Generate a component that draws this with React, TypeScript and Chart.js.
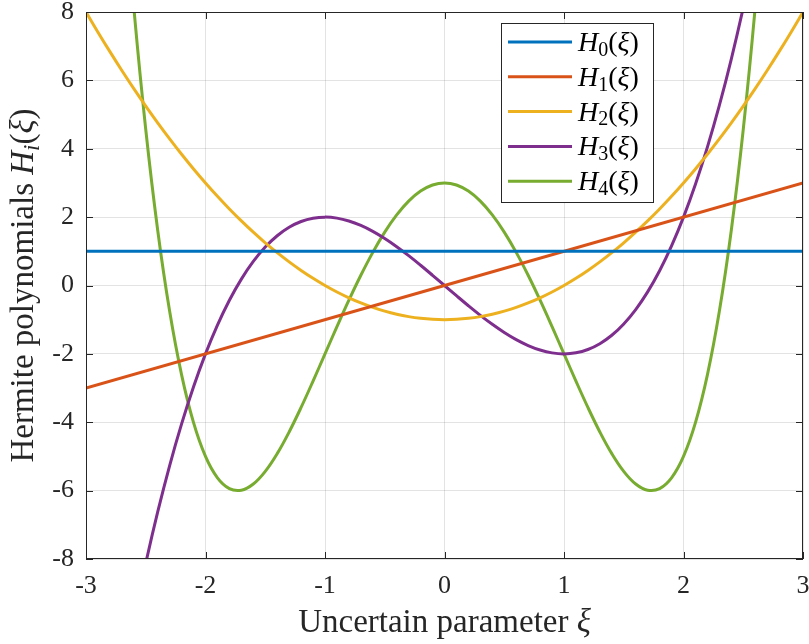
import { useEffect, useRef } from "react";
import { Chart, registerables } from "chart.js";

Chart.register(...registerables);

// Sample grid for the curved polynomials
const xi = [
  -3.0, -2.9, -2.8, -2.7, -2.6, -2.5, -2.4, -2.3, -2.2, -2.1,
  -2.0, -1.9, -1.8, -1.7, -1.6, -1.5, -1.4, -1.3, -1.2, -1.1,
  -1.0, -0.9, -0.8, -0.7, -0.6, -0.5, -0.4, -0.3, -0.2, -0.1,
  0.0, 0.1, 0.2, 0.3, 0.4, 0.5, 0.6, 0.7, 0.8, 0.9,
  1.0, 1.1, 1.2, 1.3, 1.4, 1.5, 1.6, 1.7, 1.8, 1.9,
  2.0, 2.1, 2.2, 2.3, 2.4, 2.5, 2.6, 2.7, 2.8, 2.9, 3.0,
];

// Straight lines only need their end points
const lineXi = [-3, 3];
const h0Values = [1, 1];
const h1Values = [-3, 3];

const h2Values = [
  8, 7.41, 6.84, 6.29, 5.76, 5.25, 4.76, 4.29, 3.84, 3.41,
  3, 2.61, 2.24, 1.89, 1.56, 1.25, 0.96, 0.69, 0.44, 0.21,
  0, -0.19, -0.36, -0.51, -0.64, -0.75, -0.84, -0.91, -0.96, -0.99,
  -1, -0.99, -0.96, -0.91, -0.84, -0.75, -0.64, -0.51, -0.36, -0.19,
  0, 0.21, 0.44, 0.69, 0.96, 1.25, 1.56, 1.89, 2.24, 2.61,
  3, 3.41, 3.84, 4.29, 4.76, 5.25, 5.76, 6.29, 6.84, 7.41, 8,
];

const h3Values = [
  -18, -15.689, -13.552, -11.583, -9.776, -8.125, -6.624, -5.267, -4.048, -2.961,
  -2, -1.159, -0.432, 0.187, 0.704, 1.125, 1.456, 1.703, 1.872, 1.969,
  2, 1.971, 1.888, 1.757, 1.584, 1.375, 1.136, 0.873, 0.592, 0.299,
  0, -0.299, -0.592, -0.873, -1.136, -1.375, -1.584, -1.757, -1.888, -1.971,
  -2, -1.969, -1.872, -1.703, -1.456, -1.125, -0.704, -0.187, 0.432, 1.159,
  2, 2.961, 4.048, 5.267, 6.624, 8.125, 9.776, 11.583, 13.552, 15.689, 18,
];

const h4Values = [
  30, 23.2681, 17.4256, 12.4041, 8.1376, 4.5625, 1.6176, -0.7559, -2.6144, -4.0119,
  -5, -5.6279, -5.9424, -5.9879, -5.8064, -5.4375, -4.9184, -4.2839, -3.5664, -2.7959,
  -2, -1.2039, -0.4304, 0.3001, 0.9696, 1.5625, 2.0656, 2.4681, 2.7616, 2.9401,
  3, 2.9401, 2.7616, 2.4681, 2.0656, 1.5625, 0.9696, 0.3001, -0.4304, -1.2039,
  -2, -2.7959, -3.5664, -4.2839, -4.9184, -5.4375, -5.8064, -5.9879, -5.9424, -5.6279,
  -5, -4.0119, -2.6144, -0.7559, 1.6176, 4.5625, 8.1376, 12.4041, 17.4256, 23.2681, 30,
];

const seriesIndex = ["0", "1", "2", "3", "4"];
const seriesColors = ["#0072BD", "#D95319", "#EDB120", "#7E2F8E", "#77AC30"];

const xTicks = [-3, -2, -1, 0, 1, 2, 3];
const yTicks = [-8, -6, -4, -2, 0, 2, 4, 6, 8];

const SERIF = "'Liberation Serif', 'Times New Roman', serif";
const INK = "#262626";

type Run = { text: string; italic?: boolean; size: number; dy?: number };

function runWidth(ctx: CanvasRenderingContext2D, runs: Run[]) {
  let w = 0;
  for (const r of runs) {
    ctx.font = `${r.italic ? "italic " : ""}${r.size}px ${SERIF}`;
    w += ctx.measureText(r.text).width;
  }
  return w;
}

function drawRuns(ctx: CanvasRenderingContext2D, runs: Run[], x: number, y: number) {
  ctx.textBaseline = "alphabetic";
  ctx.textAlign = "left";
  let cx = x;
  for (const r of runs) {
    ctx.font = `${r.italic ? "italic " : ""}${r.size}px ${SERIF}`;
    ctx.fillText(r.text, cx, y + (r.dy || 0));
    cx += ctx.measureText(r.text).width;
  }
}

const hermiteLabel = (idx: string, size: number, sub: number, subItalic = false): Run[] => [
  { text: "H", italic: true, size },
  { text: idx, size: sub, dy: size * 0.17, italic: subItalic },
  { text: "(", size },
  { text: "ξ", italic: true, size },
  { text: ")", size },
];

const framePlugin = {
  id: "frameDecor",
  afterDatasetsDraw(chart: any) {
    const { ctx, chartArea: a, scales } = chart;
    ctx.save();
    // axes box
    ctx.strokeStyle = INK;
    ctx.lineWidth = 1;
    ctx.strokeRect(Math.round(a.left) + 0.5, Math.round(a.top) + 0.5,
      Math.round(a.right - a.left) - 1, Math.round(a.bottom - a.top) - 1);
    // inward ticks on all four sides
    const tl = 7;
    ctx.beginPath();
    for (const t of xTicks) {
      const px = Math.round(scales.x.getPixelForValue(t)) + 0.5;
      ctx.moveTo(px, a.bottom); ctx.lineTo(px, a.bottom - tl);
      ctx.moveTo(px, a.top); ctx.lineTo(px, a.top + tl);
    }
    for (const t of yTicks) {
      const py = Math.round(scales.y.getPixelForValue(t)) + 0.5;
      ctx.moveTo(a.left, py); ctx.lineTo(a.left + tl, py);
      ctx.moveTo(a.right, py); ctx.lineTo(a.right - tl, py);
    }
    ctx.stroke();

    // legend box in the upper right
    const boxLeft = Math.round(a.right - 302);
    const boxTop = Math.round(a.top + 11);
    const boxW = 152;
    const boxH = 179;
    ctx.fillStyle = "#ffffff";
    ctx.fillRect(boxLeft, boxTop, boxW, boxH);
    ctx.strokeStyle = INK;
    ctx.lineWidth = 1;
    ctx.strokeRect(boxLeft + 0.5, boxTop + 0.5, boxW, boxH);
    seriesIndex.forEach((idx, i) => {
      const cy = boxTop + 19 + i * 34.8;
      ctx.strokeStyle = seriesColors[i];
      ctx.lineWidth = 3;
      ctx.beginPath();
      ctx.moveTo(boxLeft + 7, cy);
      ctx.lineTo(boxLeft + 71, cy);
      ctx.stroke();
      ctx.fillStyle = "#000000";
      drawRuns(ctx, hermiteLabel(idx, 28, 20), boxLeft + 77, cy + 9);
    });
    ctx.restore();
  },
  afterDraw(chart: any) {
    const { ctx, chartArea: a } = chart;
    ctx.save();
    ctx.fillStyle = INK;
    // x-axis title
    const xRuns: Run[] = [
      { text: "Uncertain parameter ", size: 33 },
      { text: "ξ", italic: true, size: 33 },
    ];
    const xw = runWidth(ctx, xRuns);
    drawRuns(ctx, xRuns, (a.left + a.right) / 2 - xw / 2, 632);
    // y-axis title, rotated
    const yRuns: Run[] = [
      { text: "Hermite polynomials ", size: 33 },
      ...hermiteLabel("i", 33, 23, true),
    ];
    const yw = runWidth(ctx, yRuns);
    ctx.translate(33, (a.top + a.bottom) / 2);
    ctx.rotate(-Math.PI / 2);
    drawRuns(ctx, yRuns, -yw / 2, 0);
    ctx.restore();
  },
};

export default function App() {
  const canvasRef = useRef<HTMLCanvasElement | null>(null);

  useEffect(() => {
    const canvas = canvasRef.current;
    if (!canvas) return;

    const curve = (xs: number[], ys: number[]) => xs.map((x, i) => ({ x, y: ys[i] }));
    const dataSets = [
      curve(lineXi, h0Values),
      curve(lineXi, h1Values),
      curve(xi, h2Values),
      curve(xi, h3Values),
      curve(xi, h4Values),
    ];

    const tickFont = { family: SERIF, size: 26 };
    const gridColor = "rgba(38,38,38,0.13)";

    const chart = new Chart(canvas, {
      type: "line",
      data: {
        datasets: dataSets.map((d, i) => ({
          label: `H${seriesIndex[i]}`,
          data: d,
          borderColor: seriesColors[i],
          backgroundColor: seriesColors[i],
          borderWidth: 3,
          pointRadius: 0,
          tension: 0.4,
          fill: false,
        })),
      },
      options: {
        animation: false,
        responsive: false,
        maintainAspectRatio: false,
        layout: { padding: { top: 12, right: 6, left: 0, bottom: 0 } },
        elements: { line: { capBezierPoints: false } },
        plugins: {
          legend: { display: false },
          tooltip: { enabled: false },
        },
        scales: {
          x: {
            type: "linear",
            min: -3,
            max: 3,
            ticks: { stepSize: 1, font: tickFont, color: INK, padding: 12, maxRotation: 0 },
            grid: { color: gridColor, drawTicks: false },
            border: { display: false },
            afterFit: (s: any) => {
              s.height = 85;
              s.paddingLeft = 0;
              s.paddingRight = 0;
            },
          },
          y: {
            type: "linear",
            min: -8,
            max: 8,
            ticks: { stepSize: 2, font: tickFont, color: INK, padding: 12 },
            grid: { color: gridColor, drawTicks: false },
            border: { display: false },
            afterFit: (s: any) => {
              s.width = 86;
              s.paddingTop = 0;
              s.paddingBottom = 0;
            },
          },
        },
      },
      plugins: [framePlugin],
    });

    return () => chart.destroy();
  }, []);

  return (
    <div style={{ position: "absolute", left: 0, top: 0, width: 809, height: 644, background: "#fff" }}>
      <canvas ref={canvasRef} width={809} height={644} />
    </div>
  );
}
